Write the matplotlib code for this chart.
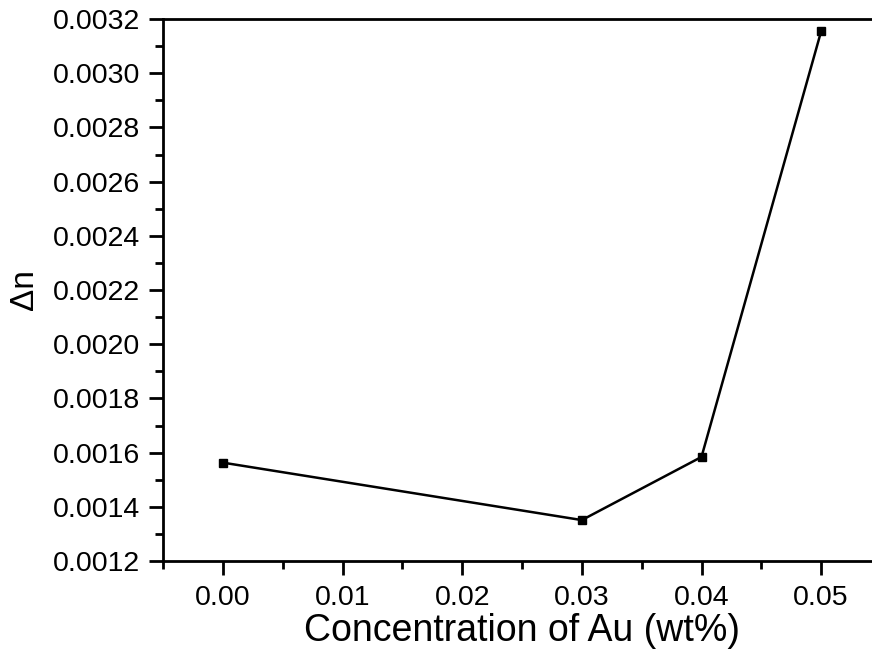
import matplotlib
matplotlib.use("Agg")
import matplotlib.pyplot as plt
from matplotlib.ticker import MultipleLocator, FormatStrFormatter

plt.rcParams['font.family'] = ['Liberation Sans', 'DejaVu Sans']

concentration = [0.00, 0.03, 0.04, 0.05]
delta_n = [0.001563, 0.001351, 0.001584, 0.003155]

fig = plt.figure(figsize=(8.72, 6.56), dpi=100)
W, H = 872, 656
left, right, top, bottom = 163, 881, 19, 561
ax = fig.add_axes([left / W, 1 - bottom / H, (right - left) / W, (bottom - top) / H])

ax.plot(concentration, delta_n, color='black', lw=1.8, marker='s', ms=5.5,
        mfc='black', mec='black')

ax.set_xlim(-0.005, 0.055)
ax.set_ylim(0.0012, 0.0032)
ax.xaxis.set_major_locator(MultipleLocator(0.01))
ax.xaxis.set_minor_locator(MultipleLocator(0.005))
ax.yaxis.set_major_locator(MultipleLocator(0.0002))
ax.yaxis.set_minor_locator(MultipleLocator(0.0001))
ax.xaxis.set_major_formatter(FormatStrFormatter('%.2f'))
ax.yaxis.set_major_formatter(FormatStrFormatter('%.4f'))

for s in ['left', 'bottom', 'top', 'right']:
    ax.spines[s].set_linewidth(2.0)
ax.spines['right'].set_visible(False)
ax.tick_params(which='major', direction='out', length=10, width=2.0, labelsize=20.5)
ax.tick_params(axis='x', which='major', pad=7.5)
ax.tick_params(axis='y', which='major', pad=6.5)
ax.tick_params(which='minor', direction='out', length=5.5, width=2.0)
ax.tick_params(top=False, right=False, which='both')

ax.set_xlabel('Concentration of Au (wt%)', fontsize=27, labelpad=1)
ax.set_ylabel('Δn', fontsize=24, labelpad=9)

fig.savefig('out.png', dpi=100)
